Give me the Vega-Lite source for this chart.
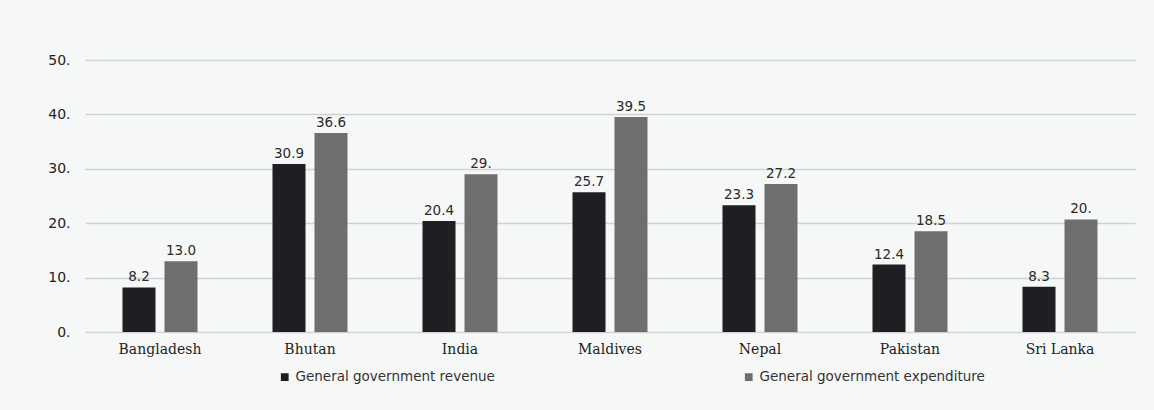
{
  "$schema": "https://vega.github.io/schema/vega-lite/v6.json",
  "width": 1050,
  "height": 272,
  "autosize": {"type": "none"},
  "padding": {"left": 85, "top": 60, "right": 19, "bottom": 78},
  "background": "#f6f8f8",
  "config": {"view": {"stroke": null}},
  "data": {
    "values": [
      {"country": "Bangladesh", "series": "General government revenue", "value": 8.2, "label": "8.2"},
      {"country": "Bangladesh", "series": "General government expenditure", "value": 13.0, "label": "13.0"},
      {"country": "Bhutan", "series": "General government revenue", "value": 30.9, "label": "30.9"},
      {"country": "Bhutan", "series": "General government expenditure", "value": 36.6, "label": "36.6"},
      {"country": "India", "series": "General government revenue", "value": 20.4, "label": "20.4"},
      {"country": "India", "series": "General government expenditure", "value": 29.0, "label": "29."},
      {"country": "Maldives", "series": "General government revenue", "value": 25.7, "label": "25.7"},
      {"country": "Maldives", "series": "General government expenditure", "value": 39.5, "label": "39.5"},
      {"country": "Nepal", "series": "General government revenue", "value": 23.3, "label": "23.3"},
      {"country": "Nepal", "series": "General government expenditure", "value": 27.2, "label": "27.2"},
      {"country": "Pakistan", "series": "General government revenue", "value": 12.4, "label": "12.4"},
      {"country": "Pakistan", "series": "General government expenditure", "value": 18.5, "label": "18.5"},
      {"country": "Sri Lanka", "series": "General government revenue", "value": 8.3, "label": "8.3"},
      {"country": "Sri Lanka", "series": "General government expenditure", "value": 20.7, "label": "20."}
    ]
  },
  "encoding": {
    "x": {
      "field": "country",
      "type": "nominal",
      "sort": null,
      "scale": {"paddingInner": 0.5, "paddingOuter": 0.25},
      "axis": {
        "title": null,
        "labelAngle": 0,
        "domain": false,
        "ticks": false,
        "labelPadding": 10,
        "labelFont": "DejaVu Serif",
        "labelFontSize": 14,
        "labelColor": "#1e1e1e"
      }
    },
    "xOffset": {
      "field": "series",
      "type": "nominal",
      "sort": ["General government revenue", "General government expenditure"],
      "scale": {"paddingInner": 0.214}
    },
    "y": {
      "field": "value",
      "type": "quantitative",
      "scale": {"domain": [0, 50], "nice": false},
      "axis": {
        "title": null,
        "values": [0, 10, 20, 30, 40, 50],
        "labelExpr": "datum.value + '.'",
        "domain": false,
        "ticks": false,
        "labelPadding": 15,
        "labelFont": "DejaVu Sans",
        "labelFontSize": 14,
        "labelColor": "#222",
        "gridColor": "#cfd3d3",
        "gridWidth": 1.5
      }
    }
  },
  "layer": [
    {
      "mark": {"type": "bar"},
      "encoding": {
        "color": {
          "field": "series",
          "type": "nominal",
          "sort": ["General government revenue", "General government expenditure"],
          "scale": {"range": ["#1f1f23", "#6e6e6e"]},
          "legend": {
            "title": null,
            "orient": "none",
            "direction": "horizontal",
            "legendX": 193,
            "legendY": 310,
            "symbolType": "square",
            "symbolSize": 60,
            "labelFont": "DejaVu Sans",
            "labelFontSize": 13.5,
            "labelColor": "#333",
            "labelLimit": 0,
            "columnPadding": 247
          }
        }
      }
    },
    {
      "mark": {"type": "text", "dy": -10, "font": "DejaVu Sans", "fontSize": 13.5, "color": "#2a2a2a"},
      "encoding": {
        "text": {"field": "label"}
      }
    }
  ]
}
